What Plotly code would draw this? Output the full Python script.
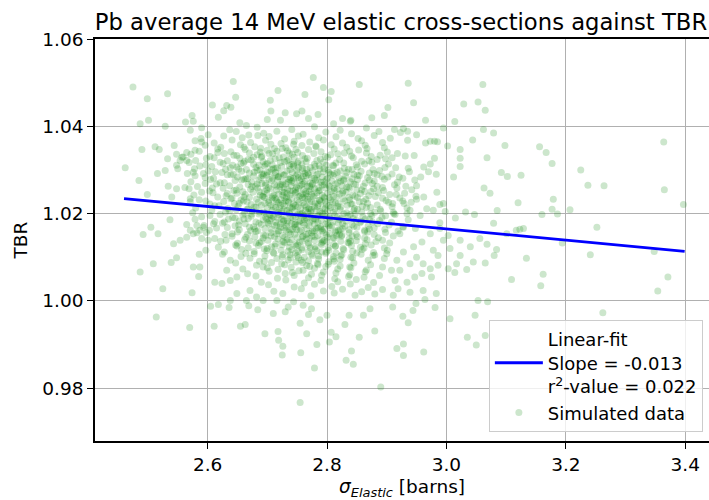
import plotly.graph_objects as go

# ---- values ----
outer_points = [
    (2.475,1.0490),(2.499,1.0463),(2.533,1.0475),(2.643,1.0503),(2.777,1.0512),(2.854,1.0496),(2.794,1.0489),(2.807,1.0480),
    (2.718,1.0482),(2.705,1.0460),(2.763,1.0473),(2.803,1.0461),(2.647,1.0467),(2.608,1.0449),(2.639,1.0444),(2.627,1.0436),
    (2.706,1.0435),(2.758,1.0435),(2.785,1.0427),(2.902,1.0443),(2.875,1.0420),(2.896,1.0425),(2.826,1.0418),(2.840,1.0414),
    (2.722,1.0414),(2.700,1.0416),(2.769,1.0418),(2.618,1.0421),(2.574,1.0425),(2.563,1.0410),(2.576,1.0412),(2.501,1.0414),
    (2.487,1.0406),(2.529,1.0400),(2.730,1.0431),(2.749,1.0429),(2.654,1.0408),(2.665,1.0402),(2.839,1.0412),(2.811,1.0406),
    (2.632,1.0448),
    (2.462,1.0305),(2.490,1.0347),(2.512,1.0353),(2.519,1.0347),(2.485,1.0276),(2.499,1.0244),(2.516,1.0292),(2.533,1.0326),
    (2.544,1.0356),(2.548,1.0336),(2.534,1.0263),(2.557,1.0329),(2.565,1.0340),(2.550,1.0303),(2.537,1.0186),(2.505,1.0169),
    (2.529,1.0299),(2.548,1.0257),(2.562,1.0260),(2.576,1.0295),(2.565,1.0322),(2.579,1.0345),(2.548,1.0311),(2.554,1.0322),
    (2.559,1.0330),(2.571,1.0391),(2.590,1.0364),(2.593,1.0292),(2.596,1.0269),(2.590,1.0249),(2.571,1.0234),(2.540,1.0238),
    (2.565,1.0175),(2.582,1.0156),(2.590,1.0143),
    (2.936,1.0499),(3.061,1.0496),(2.945,1.0454),(3.029,1.0451),(3.053,1.0456),(3.065,1.0437),(2.965,1.0414),(3.014,1.0411),
    (2.928,1.0395),(2.935,1.0389),(2.923,1.0386),(2.995,1.0396),(3.062,1.0393),(3.079,1.0385),(3.044,1.0369),(3.098,1.0356),
    (3.156,1.0353),(3.167,1.0340),(3.177,1.0315),(3.364,1.0364),(3.023,1.0347),(3.023,1.0327),(3.023,1.0308),(3.068,1.0328),
    (3.002,1.0355),(3.012,1.0284),(3.092,1.0294),(3.102,1.0285),(3.125,1.0288),(3.225,1.0300),(3.237,1.0265),(3.264,1.0264),
    (3.365,1.0255),(3.397,1.0221),(3.063,1.0259),(3.073,1.0247),(3.120,1.0225),(3.179,1.0233),(3.177,1.0210),(3.186,1.0199),
    (3.207,1.0209),(3.160,1.0198),(3.085,1.0207),(3.047,1.0198),(3.032,1.0204),(3.015,1.0190),(3.079,1.0178),(3.123,1.0164),
    (3.252,1.0169),(2.995,1.0223),(2.998,1.0205),
    (2.965,1.0362),(2.973,1.0366),(2.980,1.0366),(2.985,1.0365),(2.931,1.0332),(2.946,1.0333),(2.918,1.0338),(2.909,1.0328),
    (2.980,1.0327),(2.973,1.0314),(2.962,1.0307),(2.983,1.0290),(2.970,1.0296),(2.957,1.0284),(2.950,1.0264),(2.932,1.0263),
    (2.921,1.0284),(2.915,1.0305),(2.936,1.0304),(2.984,1.0249),(2.949,1.0240),(2.962,1.0238),(2.941,1.0226),(2.929,1.0223),
    (2.916,1.0244),(2.910,1.0223),(2.989,1.0221),(2.978,1.0208),(2.967,1.0211),(2.956,1.0196),(2.934,1.0200),(2.912,1.0200),
    (2.989,1.0179),(2.928,1.0169),
    (3.129,1.0166),(3.194,1.0133),(3.241,1.0106),(3.348,1.0113),(3.134,1.0098),(3.162,1.0061),(3.158,1.0035),(3.109,1.0049),
    (3.371,1.0055),(3.354,1.0023),(3.262,0.9973),(3.053,1.0001),(3.069,0.9998),(3.048,0.9967),(3.006,0.9959),(3.035,0.9917),
    (3.050,0.9899),(3.065,0.9921),(2.962,0.9883),(2.928,0.9875),(2.917,0.9891),(2.928,0.9901),(2.936,0.9950),(2.927,0.9965),
    (2.944,0.9978),(2.981,0.9985),(2.964,1.0003),(2.983,1.0017),(2.949,0.9994),(2.910,0.9986),
    (3.017,1.0085),(3.045,1.0089),(3.065,1.0087),(3.080,1.0104),(3.084,1.0118),(3.040,1.0124),(3.023,1.0139),(3.006,1.0120),
    (3.034,1.0072),(3.003,1.0074),(3.014,1.0065),(3.023,1.0104),(3.056,1.0143),(3.068,1.0130),(3.101,1.0154),(3.117,1.0162),
    (2.986,1.0082),(2.973,1.0074),(2.959,1.0063),(2.947,1.0055),(2.934,1.0043),(2.919,1.0028),(2.911,1.0013),(2.939,1.0020),
    (2.961,1.0024),(2.975,1.0055),(2.986,1.0104),(2.961,1.0085),(2.939,1.0085),(2.950,1.0100),(2.922,1.0070),(2.914,1.0047),
    (2.978,1.0116),(2.995,1.0139),(3.003,1.0150),(2.989,1.0166),(2.973,1.0154),(2.959,1.0135),(2.945,1.0124),(2.928,1.0112),
    (2.917,1.0093),(2.908,1.0070),
    (2.492,1.0152),(2.517,1.0154),(2.487,1.0066),(2.509,1.0085),(2.539,1.0088),(2.548,1.0099),(2.525,1.0028),(2.514,0.9963),
    (2.570,0.9939),(2.574,1.0019),(2.585,1.0056),(2.576,1.0078),(2.587,1.0078),(2.586,1.0107),(2.597,1.0116),(2.543,1.0131),
    (2.554,1.0139),(2.565,1.0146),(2.576,1.0154),(2.587,1.0162),(2.571,1.0162),(2.582,1.0173),(2.593,1.0169),(2.601,1.0139),
    (2.610,1.0177),
    (2.611,0.9942),(2.605,0.9988),(2.618,0.9992),(2.638,1.0001),(2.636,0.9985),(2.655,0.9942),(2.663,0.9946),(2.669,0.9989),
    (2.684,0.9980),(2.696,0.9925),(2.710,0.9971),(2.718,0.9930),(2.719,0.9910),(2.726,0.9896),(2.725,0.9876),(2.730,0.9975),
    (2.755,0.9949),(2.756,0.9881),(2.766,0.9925),(2.779,0.9846),(2.783,0.9900),(2.755,0.9767),(2.804,0.9906),(2.815,0.9918),
    (2.807,0.9928),(2.832,0.9864),(2.844,0.9855),(2.841,0.9885),(2.854,0.9917),(2.880,0.9931),(2.890,0.9803),(2.830,0.9946),
    (2.837,0.9967),(2.861,0.9967),(2.872,0.9982),(2.788,0.9957),(2.800,0.9967),(2.769,0.9969),(2.774,0.9982),(2.760,0.9990),
    (2.744,0.9998),(2.735,0.9986),(2.716,1.0001),(2.693,1.0001),(2.682,1.0009),(2.665,1.0001),(2.671,1.0024),(2.649,1.0017),
    (2.638,1.0047),(2.624,1.0040),(2.612,1.0043),(2.632,1.0070),(2.649,1.0055),
]

core_points = [
    (2.590,1.0397),(2.637,1.0392),(2.683,1.0398),(2.741,1.0393),(2.779,1.0399),(2.822,1.0391),(2.866,1.0396),(2.913,1.0393),
    (2.601,1.0381),(2.648,1.0388),(2.694,1.0384),(2.716,1.0389),(2.760,1.0382),(2.798,1.0387),(2.841,1.0383),(2.887,1.0388),(2.950,1.0381),(2.669,1.0380),
    (2.589,1.0372),(2.627,1.0378),(2.658,1.0374),(2.703,1.0377),(2.729,1.0371),(2.752,1.0378),(2.786,1.0374),(2.815,1.0376),(2.852,1.0372),(2.879,1.0379),(2.906,1.0373),(2.684,1.0379),
    (2.579,1.0367),(2.611,1.0362),(2.641,1.0369),(2.672,1.0363),(2.697,1.0368),(2.723,1.0361),(2.745,1.0366),(2.771,1.0364),(2.794,1.0369),(2.826,1.0362),(2.858,1.0367),(2.893,1.0363),(2.935,1.0368),
    (2.596,1.0357),(2.622,1.0352),(2.655,1.0358),(2.679,1.0353),(2.706,1.0359),(2.731,1.0351),(2.758,1.0356),(2.782,1.0353),(2.807,1.0358),(2.833,1.0352),(2.864,1.0357),(2.896,1.0351),(2.689,1.0350),(2.744,1.0359),
    (2.586,1.0343),(2.617,1.0348),(2.639,1.0342),(2.663,1.0347),(2.688,1.0341),(2.712,1.0349),(2.734,1.0344),(2.751,1.0340),(2.769,1.0347),(2.790,1.0342),(2.812,1.0348),(2.838,1.0343),(2.867,1.0349),(2.901,1.0341),(2.700,1.0345),(2.725,1.0349),
    (2.572,1.0336),(2.604,1.0331),(2.628,1.0338),(2.649,1.0333),(2.670,1.0339),(2.691,1.0332),(2.709,1.0337),(2.727,1.0330),(2.742,1.0336),(2.759,1.0333),(2.778,1.0338),(2.797,1.0331),(2.818,1.0337),(2.841,1.0332),(2.866,1.0339),(2.889,1.0334),(2.737,1.0339),(2.683,1.0335),
    (2.580,1.0322),(2.611,1.0328),(2.633,1.0321),(2.654,1.0327),(2.673,1.0323),(2.690,1.0329),(2.705,1.0322),(2.720,1.0328),(2.736,1.0324),(2.752,1.0320),(2.767,1.0327),(2.783,1.0322),(2.801,1.0329),(2.821,1.0324),(2.844,1.0328),(2.870,1.0321),(2.898,1.0326),(2.713,1.0326),(2.745,1.0329),(2.662,1.0320),
    (2.569,1.0317),(2.597,1.0312),(2.621,1.0318),(2.642,1.0311),(2.660,1.0316),(2.677,1.0313),(2.693,1.0319),(2.708,1.0312),(2.722,1.0317),(2.737,1.0310),(2.751,1.0316),(2.765,1.0319),(2.779,1.0313),(2.794,1.0318),(2.810,1.0311),(2.828,1.0316),(2.849,1.0312),(2.875,1.0318),(2.903,1.0314),(2.700,1.0315),(2.744,1.0314),(2.787,1.0310),
    (2.578,1.0303),(2.607,1.0308),(2.630,1.0302),(2.649,1.0307),(2.665,1.0301),(2.681,1.0306),(2.696,1.0309),(2.710,1.0303),(2.724,1.0308),(2.738,1.0301),(2.752,1.0306),(2.766,1.0302),(2.780,1.0308),(2.795,1.0303),(2.811,1.0309),(2.829,1.0304),(2.851,1.0307),(2.877,1.0301),(2.897,1.0306),(2.717,1.0305),(2.759,1.0304),(2.688,1.0300),(2.802,1.0300),(2.744,1.0309),
    (2.566,1.0292),(2.601,1.0298),(2.624,1.0294),(2.643,1.0290),(2.657,1.0297),(2.670,1.0293),(2.683,1.0299),(2.694,1.0291),(2.704,1.0296),(2.714,1.0294),(2.723,1.0292),(2.733,1.0298),(2.742,1.0294),(2.751,1.0290),(2.759,1.0297),(2.768,1.0293),(2.776,1.0299),(2.785,1.0291),(2.794,1.0296),(2.803,1.0294),(2.812,1.0292),(2.822,1.0298),(2.833,1.0294),(2.845,1.0290),(2.857,1.0297),(2.871,1.0293),(2.888,1.0299),(2.909,1.0291),(2.938,1.0296),(2.700,1.0294),
    (2.579,1.0287),(2.610,1.0281),(2.633,1.0289),(2.650,1.0284),(2.664,1.0280),(2.677,1.0286),(2.689,1.0283),(2.699,1.0288),(2.709,1.0281),(2.719,1.0285),(2.729,1.0289),(2.739,1.0282),(2.748,1.0286),(2.757,1.0280),(2.765,1.0287),(2.774,1.0283),(2.783,1.0289),(2.792,1.0284),(2.801,1.0281),(2.810,1.0288),(2.820,1.0282),(2.831,1.0286),(2.842,1.0280),(2.854,1.0287),(2.868,1.0283),(2.884,1.0289),(2.902,1.0284),(2.927,1.0281),(2.713,1.0288),(2.760,1.0285),
    (2.572,1.0273),(2.605,1.0278),(2.628,1.0271),(2.646,1.0276),(2.661,1.0279),(2.674,1.0272),(2.686,1.0277),(2.697,1.0270),(2.707,1.0275),(2.717,1.0278),(2.726,1.0273),(2.736,1.0279),(2.745,1.0271),(2.754,1.0276),(2.763,1.0274),(2.772,1.0270),(2.781,1.0277),(2.790,1.0272),(2.799,1.0279),(2.808,1.0275),(2.818,1.0271),(2.828,1.0276),(2.839,1.0273),(2.851,1.0278),(2.864,1.0270),(2.879,1.0275),(2.896,1.0279),(2.918,1.0272),(2.947,1.0277),(2.741,1.0275),(2.795,1.0273),
    (2.583,1.0262),(2.615,1.0268),(2.637,1.0264),(2.654,1.0261),(2.668,1.0267),(2.680,1.0263),(2.691,1.0269),(2.702,1.0260),(2.712,1.0266),(2.721,1.0262),(2.731,1.0268),(2.740,1.0264),(2.749,1.0261),(2.758,1.0267),(2.767,1.0263),(2.776,1.0269),(2.786,1.0260),(2.795,1.0266),(2.804,1.0262),(2.814,1.0268),(2.825,1.0264),(2.836,1.0261),(2.848,1.0267),(2.861,1.0263),(2.876,1.0269),(2.893,1.0260),(2.913,1.0266),(2.725,1.0266),(2.771,1.0262),(2.697,1.0265),
    (2.569,1.0257),(2.603,1.0252),(2.626,1.0258),(2.644,1.0253),(2.659,1.0250),(2.672,1.0256),(2.684,1.0259),(2.695,1.0251),(2.705,1.0257),(2.715,1.0254),(2.725,1.0250),(2.734,1.0256),(2.743,1.0252),(2.752,1.0258),(2.761,1.0255),(2.770,1.0251),(2.779,1.0257),(2.788,1.0253),(2.798,1.0259),(2.807,1.0250),(2.817,1.0256),(2.827,1.0252),(2.838,1.0258),(2.850,1.0254),(2.863,1.0251),(2.878,1.0257),(2.895,1.0253),(2.917,1.0259),(2.942,1.0255),(2.747,1.0255),(2.812,1.0258),
    (2.577,1.0243),(2.609,1.0248),(2.631,1.0241),(2.649,1.0247),(2.663,1.0244),(2.676,1.0249),(2.688,1.0242),(2.699,1.0246),(2.709,1.0240),(2.719,1.0245),(2.728,1.0249),(2.738,1.0243),(2.747,1.0247),(2.756,1.0241),(2.765,1.0246),(2.774,1.0244),(2.783,1.0248),(2.792,1.0242),(2.801,1.0247),(2.811,1.0240),(2.821,1.0245),(2.832,1.0249),(2.843,1.0243),(2.856,1.0246),(2.870,1.0241),(2.886,1.0248),(2.905,1.0244),(2.930,1.0247),(2.733,1.0246),(2.779,1.0241),
    (2.586,1.0232),(2.617,1.0238),(2.639,1.0234),(2.656,1.0231),(2.670,1.0237),(2.682,1.0233),(2.693,1.0239),(2.703,1.0230),(2.713,1.0236),(2.723,1.0232),(2.732,1.0238),(2.741,1.0235),(2.750,1.0231),(2.759,1.0237),(2.768,1.0233),(2.777,1.0239),(2.787,1.0230),(2.796,1.0236),(2.806,1.0232),(2.816,1.0238),(2.827,1.0234),(2.838,1.0231),(2.851,1.0237),(2.865,1.0233),(2.881,1.0239),(2.899,1.0230),(2.922,1.0236),(2.950,1.0233),(2.708,1.0236),(2.763,1.0235),
    (2.571,1.0227),(2.604,1.0222),(2.627,1.0228),(2.645,1.0223),(2.660,1.0229),(2.673,1.0221),(2.685,1.0226),(2.696,1.0224),(2.706,1.0220),(2.716,1.0227),(2.726,1.0223),(2.735,1.0229),(2.744,1.0222),(2.753,1.0226),(2.762,1.0220),(2.771,1.0227),(2.780,1.0224),(2.790,1.0228),(2.799,1.0221),(2.809,1.0226),(2.819,1.0223),(2.830,1.0229),(2.842,1.0222),(2.854,1.0227),(2.868,1.0224),(2.884,1.0220),(2.903,1.0226),(2.927,1.0229),(2.719,1.0225),(2.785,1.0222),
    (2.580,1.0213),(2.612,1.0218),(2.634,1.0212),(2.651,1.0217),(2.666,1.0210),(2.678,1.0215),(2.690,1.0219),(2.700,1.0213),(2.710,1.0216),(2.720,1.0211),(2.729,1.0218),(2.738,1.0214),(2.747,1.0219),(2.756,1.0212),(2.765,1.0216),(2.774,1.0210),(2.784,1.0217),(2.793,1.0213),(2.803,1.0218),(2.813,1.0211),(2.823,1.0215),(2.834,1.0219),(2.846,1.0212),(2.859,1.0217),(2.873,1.0214),(2.889,1.0210),(2.909,1.0216),(2.934,1.0213),(2.751,1.0215),(2.797,1.0212),
    (2.575,1.0202),(2.607,1.0208),(2.630,1.0203),(2.648,1.0209),(2.662,1.0201),(2.675,1.0206),(2.687,1.0204),(2.698,1.0200),(2.708,1.0207),(2.718,1.0203),(2.728,1.0209),(2.737,1.0202),(2.746,1.0206),(2.755,1.0200),(2.764,1.0207),(2.773,1.0204),(2.782,1.0208),(2.792,1.0201),(2.801,1.0206),(2.811,1.0203),(2.822,1.0209),(2.833,1.0202),(2.845,1.0207),(2.858,1.0204),(2.873,1.0200),(2.890,1.0206),(2.911,1.0203),(2.939,1.0208),(2.724,1.0205),(2.768,1.0202),
    (2.590,1.0193),(2.621,1.0198),(2.642,1.0191),(2.659,1.0197),(2.673,1.0194),(2.686,1.0199),(2.697,1.0192),(2.708,1.0196),(2.718,1.0190),(2.728,1.0195),(2.737,1.0199),(2.747,1.0193),(2.756,1.0197),(2.765,1.0191),(2.774,1.0196),(2.784,1.0194),(2.793,1.0198),(2.803,1.0192),(2.813,1.0197),(2.824,1.0190),(2.835,1.0195),(2.847,1.0199),(2.860,1.0193),(2.875,1.0196),(2.892,1.0191),(2.914,1.0198),(2.761,1.0195),(2.710,1.0193),
    (2.579,1.0187),(2.612,1.0182),(2.635,1.0188),(2.653,1.0183),(2.668,1.0189),(2.681,1.0181),(2.693,1.0186),(2.704,1.0184),(2.714,1.0180),(2.724,1.0187),(2.734,1.0183),(2.743,1.0189),(2.753,1.0182),(2.762,1.0186),(2.771,1.0180),(2.781,1.0187),(2.790,1.0184),(2.800,1.0188),(2.810,1.0181),(2.821,1.0186),(2.832,1.0183),(2.844,1.0189),(2.857,1.0182),(2.871,1.0187),(2.888,1.0184),(2.908,1.0180),(2.936,1.0186),(2.776,1.0185),
    (2.594,1.0173),(2.625,1.0178),(2.646,1.0172),(2.663,1.0177),(2.677,1.0170),(2.690,1.0175),(2.701,1.0179),(2.712,1.0173),(2.722,1.0176),(2.732,1.0171),(2.741,1.0178),(2.751,1.0174),(2.760,1.0179),(2.770,1.0172),(2.779,1.0176),(2.789,1.0170),(2.798,1.0177),(2.808,1.0173),(2.819,1.0178),(2.830,1.0171),(2.842,1.0175),(2.855,1.0179),(2.869,1.0172),(2.885,1.0177),(2.904,1.0174),(2.927,1.0170),(2.745,1.0175),(2.803,1.0173),
    (2.603,1.0162),(2.633,1.0168),(2.653,1.0163),(2.670,1.0169),(2.684,1.0161),(2.696,1.0166),(2.707,1.0164),(2.718,1.0160),(2.728,1.0167),(2.738,1.0163),(2.747,1.0169),(2.757,1.0162),(2.766,1.0166),(2.776,1.0160),(2.785,1.0167),(2.795,1.0164),(2.805,1.0168),(2.815,1.0161),(2.826,1.0166),(2.837,1.0163),(2.850,1.0169),(2.863,1.0162),(2.879,1.0167),(2.897,1.0164),(2.919,1.0160),(2.948,1.0166),(2.790,1.0165),(2.731,1.0162),
    (2.598,1.0157),(2.629,1.0152),(2.650,1.0158),(2.667,1.0153),(2.681,1.0159),(2.694,1.0151),(2.706,1.0156),(2.716,1.0154),(2.726,1.0150),(2.736,1.0157),(2.746,1.0153),(2.755,1.0159),(2.765,1.0152),(2.774,1.0156),(2.784,1.0150),(2.794,1.0157),(2.804,1.0154),(2.814,1.0158),(2.825,1.0151),(2.837,1.0156),(2.849,1.0153),(2.863,1.0159),(2.879,1.0152),(2.898,1.0157),(2.922,1.0154),(2.769,1.0155),(2.821,1.0152),
    (2.612,1.0143),(2.641,1.0148),(2.662,1.0141),(2.679,1.0147),(2.693,1.0144),(2.706,1.0149),(2.718,1.0142),(2.729,1.0146),(2.740,1.0140),(2.750,1.0145),(2.760,1.0149),(2.770,1.0143),(2.780,1.0147),(2.791,1.0141),(2.801,1.0146),(2.812,1.0144),(2.824,1.0148),(2.837,1.0142),(2.851,1.0147),(2.867,1.0140),(2.886,1.0145),(2.911,1.0149),
    (2.622,1.0137),(2.650,1.0132),(2.670,1.0138),(2.687,1.0133),(2.701,1.0139),(2.714,1.0131),(2.726,1.0136),(2.737,1.0134),(2.748,1.0130),(2.759,1.0137),(2.769,1.0133),(2.779,1.0139),(2.790,1.0132),(2.800,1.0136),(2.811,1.0130),(2.823,1.0137),(2.835,1.0134),(2.849,1.0138),(2.864,1.0131),(2.882,1.0136),(2.905,1.0133),
    (2.618,1.0123),(2.647,1.0128),(2.668,1.0122),(2.685,1.0127),(2.700,1.0120),(2.713,1.0125),(2.725,1.0129),(2.737,1.0123),(2.748,1.0126),(2.758,1.0121),(2.769,1.0128),(2.780,1.0124),(2.791,1.0129),(2.802,1.0122),(2.814,1.0126),(2.827,1.0120),(2.841,1.0127),(2.856,1.0123),(2.874,1.0128),(2.896,1.0121),
    (2.628,1.0112),(2.657,1.0118),(2.678,1.0113),(2.695,1.0119),(2.710,1.0111),(2.723,1.0116),(2.735,1.0114),(2.747,1.0110),(2.758,1.0117),(2.769,1.0113),(2.780,1.0119),(2.791,1.0112),(2.803,1.0116),(2.815,1.0110),(2.828,1.0117),(2.843,1.0114),(2.859,1.0118),(2.878,1.0111),(2.901,1.0116),
    (2.625,1.0107),(2.656,1.0102),(2.678,1.0108),(2.696,1.0103),(2.711,1.0109),(2.725,1.0101),(2.738,1.0106),(2.750,1.0104),(2.762,1.0100),(2.774,1.0107),(2.786,1.0103),(2.798,1.0109),(2.811,1.0102),(2.825,1.0106),(2.840,1.0100),(2.857,1.0107),(2.877,1.0104),(2.900,1.0108),
    (2.638,1.0093),(2.671,1.0098),(2.695,1.0091),(2.716,1.0097),(2.735,1.0094),(2.752,1.0099),(2.769,1.0092),(2.786,1.0096),(2.803,1.0090),(2.822,1.0095),(2.843,1.0099),(2.869,1.0093),(2.896,1.0097),
    (2.647,1.0087),(2.682,1.0082),(2.707,1.0088),(2.729,1.0083),(2.748,1.0089),(2.766,1.0081),(2.784,1.0086),(2.802,1.0084),(2.822,1.0080),(2.845,1.0087),(2.873,1.0083),(2.759,1.0088),
    (2.659,1.0073),(2.693,1.0078),(2.718,1.0072),(2.740,1.0077),(2.760,1.0070),(2.779,1.0075),(2.798,1.0079),(2.818,1.0073),(2.840,1.0076),(2.866,1.0071),(2.893,1.0078),
    (2.667,1.0062),(2.703,1.0068),(2.730,1.0063),(2.753,1.0069),(2.774,1.0061),(2.794,1.0066),(2.815,1.0064),(2.838,1.0060),(2.864,1.0067),(2.742,1.0065),
    (2.681,1.0057),(2.717,1.0052),(2.745,1.0058),(2.769,1.0053),(2.791,1.0059),(2.813,1.0051),(2.836,1.0056),(2.862,1.0054),(2.888,1.0058),
    (2.690,1.0043),(2.731,1.0048),(2.762,1.0041),(2.790,1.0047),(2.818,1.0044),(2.849,1.0049),(2.878,1.0042),
    (2.702,1.0037),(2.745,1.0032),(2.779,1.0038),(2.808,1.0033),(2.839,1.0039),(2.869,1.0031),
    (2.711,1.0022),(2.757,1.0028),(2.794,1.0023),(2.826,1.0027),(2.858,1.0021),(2.893,1.0026),
    (2.726,1.0017),(2.773,1.0012),(2.812,1.0018),(2.847,1.0013),(2.880,1.0016),
]

dense_centre_points = [
    (2.617,1.0340),(2.661,1.0352),(2.703,1.0338),(2.748,1.0347),(2.781,1.0355),(2.829,1.0339),(2.853,1.0346),
    (2.598,1.0327),(2.644,1.0334),(2.677,1.0329),(2.716,1.0343),(2.763,1.0326),(2.806,1.0335),(2.874,1.0331),(2.733,1.0321),
    (2.626,1.0315),(2.668,1.0324),(2.697,1.0313),(2.729,1.0319),(2.758,1.0312),(2.789,1.0325),(2.815,1.0316),(2.858,1.0320),(2.884,1.0324),
    (2.587,1.0309),(2.638,1.0305),(2.686,1.0311),(2.714,1.0304),(2.741,1.0313),(2.772,1.0306),(2.799,1.0311),(2.836,1.0302),(2.863,1.0314),(2.656,1.0315),
    (2.613,1.0296),(2.652,1.0302),(2.678,1.0295),(2.707,1.0301),(2.727,1.0288),(2.749,1.0300),(2.769,1.0289),(2.788,1.0303),(2.817,1.0295),(2.842,1.0301),(2.879,1.0292),(2.693,1.0287),
    (2.596,1.0283),(2.639,1.0289),(2.667,1.0280),(2.691,1.0291),(2.718,1.0284),(2.738,1.0278),(2.763,1.0292),(2.779,1.0281),(2.806,1.0290),(2.828,1.0279),(2.851,1.0288),(2.892,1.0285),(2.752,1.0283),
    (2.621,1.0271),(2.657,1.0277),(2.683,1.0268),(2.703,1.0279),(2.722,1.0266),(2.744,1.0281),(2.761,1.0269),(2.784,1.0276),(2.803,1.0265),(2.823,1.0274),(2.845,1.0268),(2.871,1.0277),(2.735,1.0272),(2.775,1.0266),
    (2.608,1.0259),(2.648,1.0254),(2.674,1.0262),(2.699,1.0255),(2.716,1.0263),(2.738,1.0252),(2.755,1.0264),(2.773,1.0256),(2.792,1.0265),(2.812,1.0253),(2.833,1.0261),(2.858,1.0255),(2.884,1.0263),(2.728,1.0259),(2.764,1.0250),
    (2.633,1.0246),(2.661,1.0238),(2.687,1.0250),(2.711,1.0243),(2.729,1.0236),(2.748,1.0249),(2.767,1.0240),(2.786,1.0252),(2.804,1.0237),(2.826,1.0248),(2.847,1.0240),(2.874,1.0251),(2.695,1.0237),(2.759,1.0245),
    (2.597,1.0229),(2.641,1.0236),(2.666,1.0227),(2.692,1.0240),(2.715,1.0231),(2.736,1.0226),(2.753,1.0240),(2.774,1.0228),(2.795,1.0238),(2.814,1.0225),(2.837,1.0237),(2.861,1.0228),(2.893,1.0235),(2.726,1.0242),(2.788,1.0231),
    (2.619,1.0218),(2.653,1.0224),(2.681,1.0215),(2.702,1.0226),(2.722,1.0219),(2.741,1.0213),(2.760,1.0225),(2.779,1.0216),(2.797,1.0228),(2.818,1.0217),(2.840,1.0222),(2.866,1.0214),(2.731,1.0229),(2.771,1.0211),
    (2.637,1.0206),(2.668,1.0211),(2.694,1.0203),(2.714,1.0214),(2.733,1.0207),(2.751,1.0198),(2.769,1.0212),(2.788,1.0205),(2.806,1.0214),(2.828,1.0200),(2.851,1.0210),(2.880,1.0203),(2.743,1.0216),(2.704,1.0197),
    (2.604,1.0196),(2.646,1.0190),(2.674,1.0199),(2.699,1.0188),(2.719,1.0198),(2.739,1.0191),(2.758,1.0201),(2.778,1.0189),(2.797,1.0200),(2.817,1.0192),(2.839,1.0198),(2.864,1.0188),(2.898,1.0195),(2.728,1.0185),(2.786,1.0196),
    (2.628,1.0181),(2.661,1.0188),(2.686,1.0178),(2.707,1.0189),(2.727,1.0182),(2.747,1.0176),(2.766,1.0188),(2.785,1.0179),(2.805,1.0190),(2.826,1.0177),(2.849,1.0185),(2.876,1.0181),(2.755,1.0183),(2.716,1.0174),
    (2.615,1.0167),(2.652,1.0174),(2.679,1.0165),(2.702,1.0176),(2.722,1.0169),(2.742,1.0164),(2.762,1.0174),(2.782,1.0166),(2.801,1.0176),(2.822,1.0163),(2.845,1.0171),(2.871,1.0165),(2.733,1.0178),(2.792,1.0161),
    (2.641,1.0154),(2.672,1.0161),(2.697,1.0150),(2.719,1.0160),(2.739,1.0153),(2.759,1.0147),(2.779,1.0161),(2.799,1.0151),(2.819,1.0162),(2.842,1.0149),(2.868,1.0158),(2.749,1.0163),(2.810,1.0145),
    (2.631,1.0139),(2.664,1.0146),(2.690,1.0136),(2.712,1.0147),(2.733,1.0141),(2.754,1.0135),(2.775,1.0148),(2.795,1.0138),(2.816,1.0150),(2.839,1.0137),(2.863,1.0144),(2.893,1.0139),(2.765,1.0142),
    (2.649,1.0126),(2.681,1.0133),(2.707,1.0124),(2.729,1.0134),(2.751,1.0128),(2.772,1.0122),(2.793,1.0135),(2.814,1.0125),(2.837,1.0133),(2.862,1.0121),(2.741,1.0118),(2.783,1.0115),
    (2.664,1.0109),(2.699,1.0115),(2.726,1.0106),(2.752,1.0113),(2.776,1.0104),(2.799,1.0112),(2.823,1.0103),(2.850,1.0110),(2.880,1.0105),(2.739,1.0099),(2.811,1.0096),
    (2.687,1.0091),(2.724,1.0085),(2.757,1.0093),(2.785,1.0083),(2.812,1.0091),(2.838,1.0078),(2.771,1.0079),(2.700,1.0076),
]

fit_x = [2.460, 3.399]          # extent of the fitted line
fit_slope = -0.01286
fit_intercept = 1.05508
fit_label = "Linear-fit<br>Slope = -0.013<br>r<sup>2</sup>-value = 0.022"

x_ticks = [2.6, 2.8, 3.0, 3.2, 3.4]
x_tick_labels = ["2.6", "2.8", "3.0", "3.2", "3.4"]
y_ticks = [0.98, 1.00, 1.02, 1.04, 1.06]
y_tick_labels = ["0.98", "1.00", "1.02", "1.04", "1.06"]

points = outer_points + core_points + dense_centre_points
sigma_elastic = [p[0] for p in points]
tbr = [p[1] for p in points]
fit_y = [fit_intercept + fit_slope * x for x in fit_x]

FONT = "DejaVu Sans"

fig = go.Figure()
fig.add_trace(go.Scatter(
    x=sigma_elastic, y=tbr, mode="markers", name="Simulated data",
    marker=dict(color="#008000", opacity=0.2, size=7, line=dict(width=0)),
))
fig.add_trace(go.Scatter(
    x=fit_x, y=fit_y, mode="lines", name=fit_label,
    line=dict(color="#0000ff", width=2.8),
))

axis_common = dict(
    showgrid=True, gridcolor="#b0b0b0", gridwidth=1.4,
    showline=True, linecolor="black", linewidth=1.5,
    ticks="outside", ticklen=6, tickwidth=1.4, tickcolor="black",
    zeroline=False, tickfont=dict(family=FONT, size=18.5, color="black"),
)

fig.update_layout(
    width=709, height=500,
    margin=dict(l=95, r=0, t=39, b=59, pad=0),
    paper_bgcolor="white", plot_bgcolor="white",
    font=dict(family=FONT, size=18.5, color="black"),
    title=dict(text="Pb average 14 MeV elastic cross-sections against TBR",
               x=401 / 709, xref="container", xanchor="center",
               y=1 - 22 / 500, yref="container", yanchor="middle",
               font=dict(family=FONT, size=22.7, color="black")),
    xaxis=dict(range=[2.4114, 3.4398], tickvals=x_ticks, ticktext=x_tick_labels,
               mirror=True,
               title=dict(text="<i>σ</i><sub><i>Elastic</i></sub> [barns]",
                          font=dict(family=FONT, size=18.5, color="black"), standoff=6),
               **axis_common),
    yaxis=dict(range=[0.9679, 1.06002], tickvals=y_ticks, ticktext=y_tick_labels,
               title=dict(text="TBR", font=dict(family=FONT, size=18.5, color="black"), standoff=10),
               **axis_common),
    showlegend=True,
    legend=dict(x=0.990, y=0.022, xanchor="right", yanchor="bottom",
                bgcolor="rgba(255,255,255,0.8)", bordercolor="#cccccc", borderwidth=1,
                font=dict(family=FONT, size=18, color="black"),
                traceorder="reversed", itemwidth=48, tracegroupgap=2),
)

fig.write_html("out.html")
